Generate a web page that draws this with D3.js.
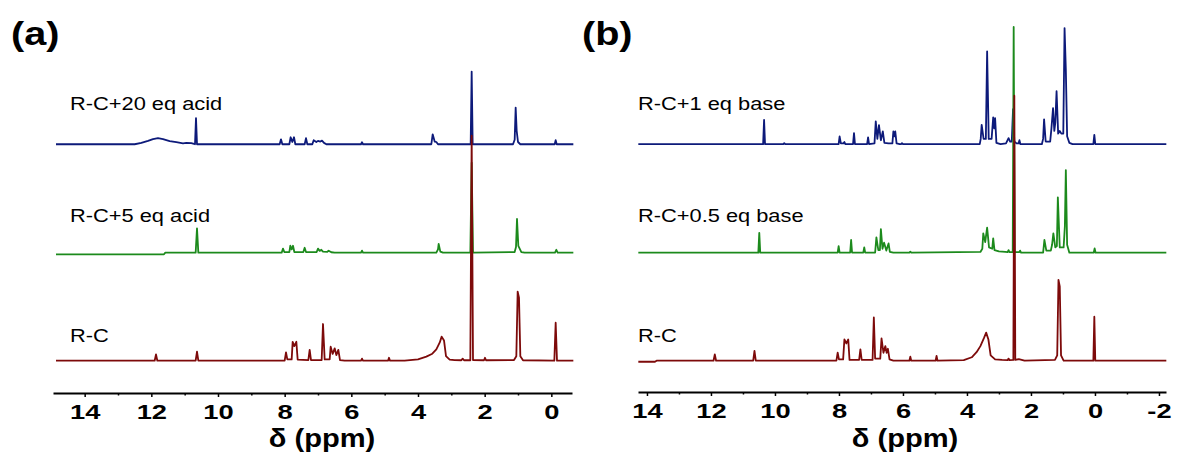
<!DOCTYPE html>
<html lang="en">
<head>
<meta charset="UTF-8">
<title>NMR spectra</title>
<style>
  body { margin: 0; background: #fff; }
  text { font-family: 'Liberation Sans', Arial, sans-serif; fill: #000; }
  .tick-lbl { font-size: 21px; font-weight: 700; }
  .ax-title { font-size: 26px; font-weight: 700; }
  .panel-lbl { font-size: 33px; font-weight: 700; }
  .spec-lbl { font-size: 18.5px; }
</style>
</head>
<body>
<div id="vis"></div>
<script src="https://d3js.org/d3.v7.min.js"></script>
<script>

// ---- data: [ppm, intensity] points ----
// panel (a) : acid titration
const rcA = [
  [14.86,0],[14.05,0],
  [11.9,0],[11.86,2.8],[11.82,0],
  [10.67,0],[10.63,4.0],[10.59,0],
  [8.0,0],[7.96,3.7],[7.92,0.6],[7.79,0.6],[7.76,8.4],[7.71,6.5],[7.65,8.4],[7.61,0.5],
  [7.29,0.3],[7.25,4.8],[7.21,0.3],
  [6.89,0.3],[6.85,16.3],[6.80,0.6],[6.65,0.6],[6.62,6.2],[6.56,3],[6.50,5.5],[6.45,2.5],[6.39,4.8],[6.34,0.3],
  [6.2,0],[5.71,0],[5.68,0.9],[5.65,0],
  [4.9,0],[4.87,1.3],[4.84,0],
  [4.4,0],[4.0,0.6],[3.75,1.8],[3.57,3.1],[3.45,5],[3.35,8],[3.29,10.7],[3.22,9],[3.16,2],[3.05,0.5],[2.9,0.3],
  [2.7,0.2],[2.66,0.9],[2.62,0.2],
  [2.43,0.2],[2.39,100],[2.35,0.3],
  [2.02,0.2],[1.99,1.3],[1.96,0.2],
  [1.12,0.3],[1.05,2],[1.01,30.7],[0.97,28],[0.93,2],[0.85,0.2],
  [-0.09,0],[-0.13,16.9],[-0.17,0],[-0.66,0]
];
const acid5A = [
  [14.86,-0.7],[11.62,-0.7],[11.58,0],
  [10.67,0],[10.63,10.8],[10.59,0],
  [8.09,0],[8.05,1.8],[8.01,0.3],[7.86,0.3],[7.83,3.1],[7.79,1.5],[7.75,3.1],[7.71,0.3],
  [7.44,0.3],[7.4,2.2],[7.36,0.3],
  [7.04,0.3],[7.0,1.8],[6.95,0.8],[6.9,1.3],[6.85,0.5],[6.72,0.4],[6.68,0.9],[6.6,0.2],[6.5,0],
  [5.71,0],[5.68,0.9],[5.65,0],
  [3.45,0],[3.40,1.5],[3.38,3.9],[3.33,0.5],[3.25,0],
  [2.43,0],[2.39,40],[2.35,0],
  [1.1,0.3],[1.06,2.5],[1.03,15],[0.99,3],[0.9,0.3],[0.8,0],
  [-0.11,0],[-0.15,1.3],[-0.19,0],[-0.66,0]
];
const acid20A = [
  [14.86,0],[12.5,0],[12.3,0.6],[12.1,1.5],[11.95,2.3],[11.8,2.7],[11.65,2.3],[11.45,1.4],[11.25,0.9],
  [11.05,0.4],[10.95,0.6],[10.8,0.5],[10.72,0.2],
  [10.69,0],[10.66,11.6],[10.63,0],
  [8.15,0],[8.11,2.2],[8.07,0],[7.86,0],[7.82,3.1],[7.77,1],[7.72,3.1],[7.68,0],
  [7.4,0],[7.36,2.7],[7.32,0],[7.17,0],[7.13,1.8],[7.05,1.0],[7.0,1.5],[6.93,1.2],[6.88,1.6],[6.82,0.6],[6.75,0],
  [5.71,0],[5.68,0.9],[5.65,0],
  [3.6,0],[3.56,4.4],[3.5,1.2],[3.45,1],[3.4,0],
  [2.42,0],[2.39,32.3],[2.36,0],
  [1.15,0],[1.1,2],[1.07,16.3],[1.04,6],[1.0,1],[0.93,0],
  [-0.10,0],[-0.13,1.8],[-0.16,0],[-0.66,0]
];

// panel (b) : base titration
const rcB = [
  [14.27,-0.4],[13.75,-0.4],[13.7,0],
  [11.92,0],[11.88,2.4],[11.84,0],
  [10.68,0],[10.64,3.7],[10.6,0],
  [8.08,0],[8.04,3.0],[8.0,0.5],[7.87,0.5],[7.83,8.0],[7.77,6.5],[7.71,8.0],[7.67,0.3],
  [7.37,0.3],[7.33,4.3],[7.29,0.3],
  [6.95,0.3],[6.91,16.3],[6.87,0.8],[6.71,0.8],[6.67,8.4],[6.61,3],[6.55,5.5],[6.51,3],[6.47,4.5],[6.42,0.5],[6.3,0],
  [5.8,0],[5.77,1.5],[5.74,0],
  [4.98,0],[4.95,1.8],[4.92,0],
  [4.1,0.2],[3.85,1.3],[3.7,3.2],[3.58,5.5],[3.47,8.5],[3.40,10.6],[3.33,8],[3.26,2],[3.12,0.5],[2.9,0.3],
  [2.73,0.2],[2.70,0.8],[2.67,0.2],
  [2.55,0.3],[2.52,100],[2.49,0.3],
  [2.38,0.6],[2.2,0],
  [1.25,0.3],[1.18,2],[1.14,30.5],[1.10,28],[1.06,2],[0.98,0],
  [0.05,0],[0.02,16.6],[-0.01,0],[-2.23,0]
];
const base05B = [
  [14.27,0],
  [10.52,0],[10.49,7.5],[10.46,0],
  [8.04,0],[8.01,2.5],[7.98,0],
  [7.65,0],[7.62,4.8],[7.59,0],
  [7.24,0],[7.21,2.0],[7.18,0],
  [6.87,0],[6.83,5.8],[6.77,1],[6.72,1],[6.69,8.9],[6.64,1.5],[6.59,3.8],[6.52,0.8],[6.45,3.5],[6.41,0.3],[6.3,0],
  [5.8,0],[5.77,0.4],[5.74,0],
  [3.58,0.3],[3.52,1.5],[3.49,7.3],[3.43,4],[3.37,9.5],[3.31,2],[3.21,1.5],[3.18,5.4],[3.14,1],[3.0,0.5],[2.8,0.3],
  [2.73,0.2],[2.70,1.0],[2.67,0.2],
  [2.57,0.2],[2.54,85.2],[2.51,0.2],
  [2.37,0.2],[2.34,0.8],[2.31,0],
  [1.62,0],[1.58,4.8],[1.52,0.8],[1.38,0.8],[1.34,3],[1.30,7.3],[1.24,2],[1.19,2.5],[1.16,20.9],[1.10,2],
  [0.98,2],[0.94,10],[0.91,31.2],[0.87,3],[0.8,0],
  [0.04,0],[0.01,1.6],[-0.02,0],[-2.23,0]
];
const base1B = [
  [14.27,0],
  [10.37,0],[10.34,9.2],[10.31,0],
  [9.74,0],[9.71,0.4],[9.68,0],
  [8.01,0],[7.98,2.9],[7.94,0.3],[7.86,0.3],[7.83,0.8],[7.8,0],
  [7.56,0],[7.53,4.2],[7.5,0],
  [7.12,0],[7.09,2.6],[7.06,0],
  [6.89,0.3],[6.85,8.6],[6.8,2],[6.75,7.2],[6.69,1.5],[6.63,4.8],[6.58,0.5],[6.45,0.3],
  [6.33,0.3],[6.30,4.8],[6.27,3],[6.24,4.8],[6.2,0.3],[6.1,0],
  [6.06,0],[6.03,0.4],[6.0,0],
  [3.6,0],[3.57,2],[3.54,7.3],[3.48,2],[3.41,2],[3.37,35],[3.32,2],[3.23,2],[3.18,10.1],[3.15,6],[3.12,9.8],[3.08,0.5],[2.95,0],
  [2.78,0.3],[2.70,2.3],[2.65,1],[2.6,1],[2.56,13.2],[2.52,1],[2.45,0.3],
  [2.39,0.3],[2.36,1.5],[2.33,0],
  [1.66,0],[1.62,2],[1.59,9.4],[1.54,1],[1.4,1],[1.36,6],[1.31,13.6],[1.27,5],[1.24,8],[1.20,20],[1.15,4],
  [1.10,5],[1.05,4],[0.99,4],[0.95,43.8],[0.91,28],[0.87,3],[0.8,0.5],[0.7,0],
  [0.05,0],[0.02,3.5],[-0.01,0],[-2.23,0]
];

const labelsA = ["R-C", "R-C+5 eq acid", "R-C+20 eq acid"];
const labelsB = ["R-C", "R-C+0.5 eq base", "R-C+1 eq base"];
const offsetsA = [0, 48, 96.2];
const offsetsB = [0, 40.75, 81.7];
const majorA = [14, 12, 10, 8, 6, 4, 2, 0];
const minorA = [13, 11, 9, 7, 5, 3, 1];
const majorB = [14, 12, 10, 8, 6, 4, 2, 0, -2];
const minorB = [13, 11, 9, 7, 5, 3, 1, -1];

const colors = ["#7d0a0a", "#1c8a1c", "#0d1a7a"];   // red, green, blue

const width = 1181;
const height = 455;

let svg = d3.select("#vis").append("svg")
    .attr("width", width)
    .attr("height", height);

function stretched(sel, sx) {
  // the reference text is a bit wider than a plain Arial
  sel.attr("transform", function() {
    const x = +d3.select(this).attr("data-x");
    const y = +d3.select(this).attr("data-y");
    return "translate(" + x + "," + y + ") scale(" + sx + ",1)";
  });
}

function drawPanel(p) {
  let x = d3.scaleLinear().domain(p.domain).range([p.x0, p.x1]);
  let y = d3.scaleLinear().domain([0, 100]).range([360.7, 360.7 - p.fullPx]);

  // spectra, blue first so red ends up on top
  [2, 1, 0].forEach(function(i) {
    let line = d3.line()
      .x(function(d){ return x(d[0]); })
      .y(function(d){ return y(d[1] + p.offsets[i]); });
    svg.append("path")
      .datum(p.spectra[i])
      .attr("d", line)
      .attr("fill", "none")
      .attr("stroke", colors[i])
      .attr("stroke-width", 1.8)
      .attr("stroke-linejoin", "round");
  });

  // labels over each trace
  p.labels.forEach(function(t, i) {
    svg.append("text")
      .attr("class", "spec-lbl")
      .attr("data-x", p.labelX)
      .attr("data-y", p.labelY[i])
      .text(t)
      .call(stretched, 1.18);
  });

  // minor ticks
  svg.append("g")
    .attr("transform", "translate(0," + p.axisY + ")")
    .call(d3.axisBottom(x).tickValues(p.minor).tickSize(2.5).tickSizeOuter(0).tickFormat(""))
    .call(function(g){ g.select(".domain").remove(); })
    .selectAll("line").attr("stroke-width", 1.5);

  // main axis
  let ax = svg.append("g")
    .attr("transform", "translate(0," + p.axisY + ")")
    .call(d3.axisBottom(x).tickValues(p.major).tickSize(4).tickSizeOuter(0)
      .tickFormat(function(d){ return String(d); }));
  ax.select(".domain").attr("stroke-width", 2.2);
  ax.selectAll(".tick line").attr("stroke-width", 1.5);
  ax.selectAll(".tick text")
    .attr("class", "tick-lbl")
    .attr("y", null).attr("dy", null)
    .attr("font-size", null).attr("font-family", null)
    .attr("data-x", 0).attr("data-y", 25.5)
    .call(stretched, 1.3);

  svg.append("text")
    .attr("class", "ax-title")
    .attr("text-anchor", "middle")
    .attr("data-x", p.titleX)
    .attr("data-y", 447)
    .text("δ (ppm)")
    .call(stretched, 1.12);

  svg.append("text")
    .attr("class", "panel-lbl")
    .attr("data-x", p.tagX)
    .attr("data-y", p.tagY)
    .text(p.tag)
    .call(stretched, 1.2);
}

drawPanel({
  spectra: [rcA, acid5A, acid20A], labels: labelsA, offsets: offsetsA,
  domain: [14.95, -0.62], x0: 53, x1: 572, fullPx: 225, axisY: 393,
  major: majorA, minor: minorA, labelX: 70, labelY: [341.7, 221.5, 110],
  titleX: 322, tag: "(a)", tagX: 11, tagY: 45
});
drawPanel({
  spectra: [rcB, base05B, base1B], labels: labelsB, offsets: offsetsB,
  domain: [14.28, -2.22], x0: 638, x1: 1166, fullPx: 265, axisY: 392,
  major: majorB, minor: minorB, labelX: 638, labelY: [341.7, 221.5, 110],
  titleX: 905, tag: "(b)", tagX: 582, tagY: 45
});

</script>
</body>
</html>
